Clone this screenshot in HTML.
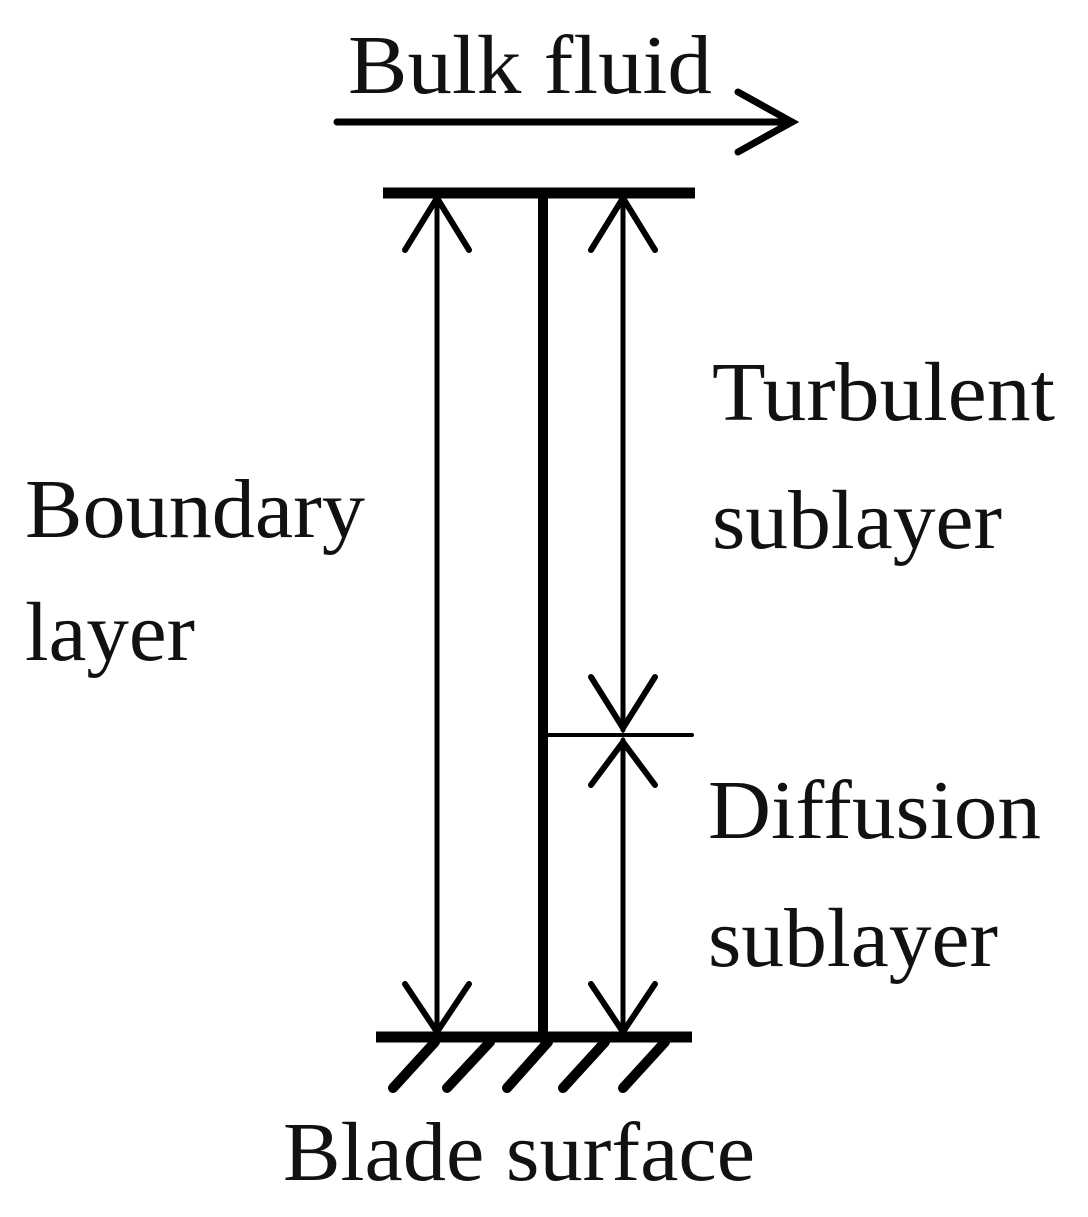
<!DOCTYPE html>
<html><head><style>html,body{margin:0;padding:0;background:#fff}svg{display:block}</style></head>
<body>
<svg width="1088" height="1217" viewBox="0 0 1088 1217" xmlns="http://www.w3.org/2000/svg">
<g font-family="Liberation Serif, serif" font-size="84" fill="#111">
<text x="348" y="93" textLength="364" lengthAdjust="spacingAndGlyphs">Bulk fluid</text>
<text x="712" y="420" textLength="343" lengthAdjust="spacingAndGlyphs">Turbulent</text>
<text x="712" y="548" textLength="290" lengthAdjust="spacingAndGlyphs">sublayer</text>
<text x="25" y="537" textLength="340" lengthAdjust="spacingAndGlyphs">Boundary</text>
<text x="25" y="660" textLength="170" lengthAdjust="spacingAndGlyphs">layer</text>
<text x="708" y="838" textLength="333" lengthAdjust="spacingAndGlyphs">Diffusion</text>
<text x="708" y="966" textLength="290" lengthAdjust="spacingAndGlyphs">sublayer</text>
<text x="283" y="1180" textLength="472" lengthAdjust="spacingAndGlyphs">Blade surface</text>
</g>
<g stroke="#000" fill="none" stroke-linecap="round" stroke-linejoin="miter">
<line x1="337" y1="122" x2="792" y2="122" stroke-width="7"/>
<polyline points="738,92 792,122 738,152" stroke-width="7"/>
<line x1="383" y1="193" x2="695" y2="193" stroke-width="11" stroke-linecap="butt"/>
<line x1="376" y1="1037" x2="692" y2="1037" stroke-width="11" stroke-linecap="butt"/>
<line x1="543" y1="193" x2="543" y2="1037" stroke-width="10"/>
<line x1="548" y1="735" x2="692" y2="735" stroke-width="4"/>
<line x1="437" y1="198" x2="437" y2="1032" stroke-width="5"/>
<line x1="623" y1="198" x2="623" y2="730" stroke-width="5"/>
<line x1="623" y1="740" x2="623" y2="1032" stroke-width="5"/>
<g stroke-width="6">
<polyline points="405,250 437,198 469,250"/>
<polyline points="405,984 437,1032 469,984"/>
<polyline points="591,250 623,198 655,250"/>
<polyline points="591,677 623,728 655,677"/>
<polyline points="591,785 623,742 655,785"/>
<polyline points="591,984 623,1032 655,984"/>
</g>
<g stroke-width="10">
<line x1="393" y1="1088" x2="435" y2="1042"/>
<line x1="447" y1="1088" x2="490" y2="1042"/>
<line x1="507" y1="1088" x2="548" y2="1042"/>
<line x1="563" y1="1088" x2="605" y2="1042"/>
<line x1="623" y1="1088" x2="665" y2="1042"/>
</g>
</g>
</svg>
</body></html>
